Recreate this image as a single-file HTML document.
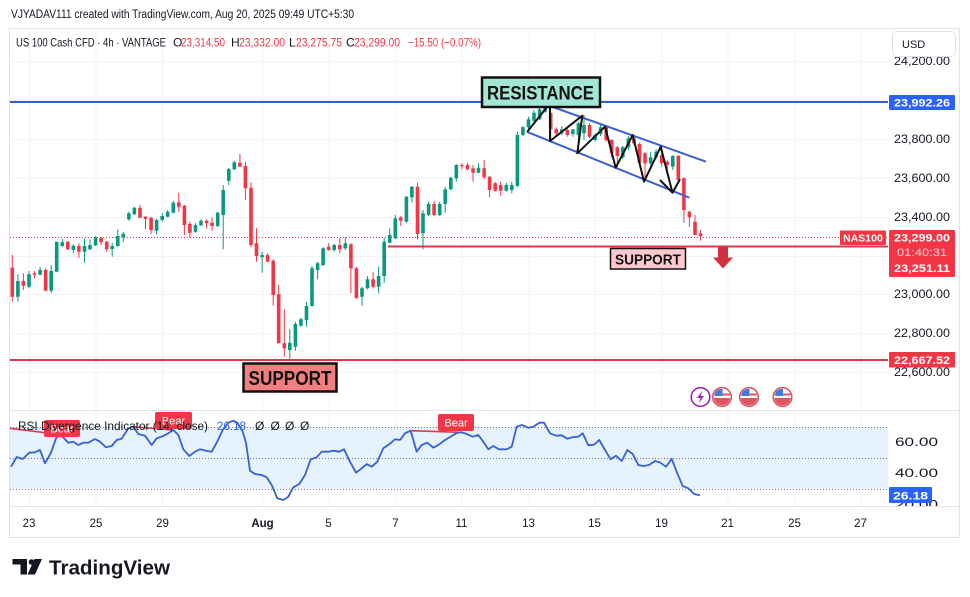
<!DOCTYPE html>
<html>
<head>
<meta charset="utf-8">
<style>
html,body{margin:0;padding:0;background:#fff;}
svg{display:block;font-family:"Liberation Sans",Arial,sans-serif;}
</style>
</head>
<body>
<svg width="970" height="597" viewBox="0 0 970 597" xmlns="http://www.w3.org/2000/svg">
<defs>
<clipPath id="fc"><circle cx="0" cy="0" r="8.3"/></clipPath>
<g id="flag">
<circle cx="0" cy="0" r="9.3" fill="#fff" stroke="#e05563" stroke-width="1.6"/>
<g clip-path="url(#fc)">
<rect x="-9" y="-9" width="18" height="18" fill="#fff"/>
<rect x="-9" y="1" width="18" height="9" fill="#e05563"/>
<rect x="-9" y="-3.5" width="18" height="2" fill="#e05563"/>
<rect x="-7" y="-8" width="7.5" height="7" fill="#3d7de4"/>
</g>
</g>
<clipPath id="plot"><rect x="10" y="29" width="878" height="477"/></clipPath>
</defs>
<rect width="970" height="597" fill="#fff"/>

<!-- header -->
<text x="11" y="18" font-size="11.5" fill="#131722" textLength="343" lengthAdjust="spacingAndGlyphs">VJYADAV111 created with TradingView.com, Aug 20, 2025 09:49 UTC+5:30</text>

<!-- frame -->
<rect x="9.5" y="28.5" width="950" height="509" fill="none" stroke="#e0e3eb"/>

<!-- grid -->
<g stroke="#f0f3fa" stroke-width="1" fill="none">
<path d="M10 61.5H888M10 100.5H888M10 139.5H888M10 178.5H888M10 217.5H888M10 256.5H888M10 294.5H888M10 333.5H888M10 372.5H888"/>
<path d="M29.5 29V506M96 29V506M162.7 29V506M262.7 29V506M329 29V506M396 29V506M462 29V506M529 29V506M595 29V506M662 29V506M728 29V506M795 29V506M861 29V506"/>
<path d="M10 442.5H888M10 473.5H888"/>
</g>
<!-- separators -->
<path d="M10 410.5H959M10 506.5H959" stroke="#e0e3eb" stroke-width="1"/>

<!-- RSI pane -->
<rect x="10" y="427" width="878" height="62" fill="#e6f2fd"/>
<g stroke="#787b86" stroke-width="1" stroke-dasharray="1,2">
<path d="M10 427.5H888M10 458.5H888M10 489.5H888"/>
</g>
<!-- divergence lines -->
<path d="M10 428.3L45 432.7M133 426.7L172 430M410.7 430.7L460 432.3" stroke="#e0394a" stroke-width="1.6" fill="none"/>
<polyline fill="none" stroke="#3462d4" stroke-width="1.8" stroke-linejoin="round" points="11,466.7 16.7,457 22.7,459 29.3,452.7 35,452.3 40,450 45,463.3 50.7,453.3 56.7,436.7 62,436 68.3,442.7 73.3,441.7 78.3,445 83.3,442.7 88.3,442.7 95,439 100,441.7 106,447.3 111.7,446 116.7,440 121.7,438.7 128.3,428.3 133.3,426.7 138.3,434 145,435.7 151.7,445 156.7,438.3 163.3,436 168.3,433.3 173.3,430 178.3,435 183.3,449.3 189.3,456 195,451.7 200,449.3 206,450.7 211.7,451.7 216.7,442.7 222.7,430 228.3,422.7 233.3,420.7 237.3,422.7 242.7,431.7 246,442.7 250,470.7 255,474 261.7,475 266.7,477.3 271.7,485 277.3,498.3 283.3,500 288.3,496.7 293.3,487.3 299.3,484 305,475 310.7,459.3 316.7,457.3 321.7,451.7 328.3,451.7 333.3,450.7 339.3,451.7 344,449.3 350,461.7 356,472.7 361.7,468.3 366.7,464 371.7,466.7 377.3,461.7 383.3,448.3 389.3,444.3 395,439.3 400,440 405,433.3 410.7,430.7 416.7,451.7 421.7,445 427.3,442.7 433.3,447.7 439.3,444.3 445,440 451.7,436 457.3,432.7 461.7,432.3 466.7,434 472.7,436.7 478.3,435 483.3,441.7 488.3,449.3 493.3,446 499,449.3 506.7,449.3 511.7,446.7 516.7,426.7 521.7,425 528.3,427.7 533.3,426.7 539.3,422.7 544,422.7 550,433.3 556,435.7 561.7,435.3 567.3,438.7 573.3,437 578.3,436.7 582.7,433.3 588.3,445.3 594,444.7 599.3,440 605,450 610.7,459.3 616,455.7 621.7,461 627.3,450 632.7,454 638.3,465 643.3,466 649,465 655,461 660.3,462.7 666,466.7 671.7,459 677.3,473.3 682.7,486 688.3,488.3 694,494 700,495.3"/>
<!-- Bear labels -->
<g fill="#f23645">
<rect x="44" y="420" width="36" height="17" rx="2"/>
<rect x="155" y="412" width="37" height="17" rx="2"/>
<rect x="438" y="414" width="36" height="17" rx="2"/>
</g>
<g fill="#fff" font-size="11" text-anchor="middle">
<text x="62" y="432.5">Bear</text>
<text x="173.5" y="424.5">Bear</text>
<text x="456" y="426.5">Bear</text>
</g>
<text x="18" y="430" font-size="12" fill="#131722" textLength="190" lengthAdjust="spacingAndGlyphs">RSI Divergence Indicator (14, close)</text>
<text x="217" y="430" font-size="12" fill="#2962ff" textLength="29" lengthAdjust="spacingAndGlyphs">26.18</text>
<g font-size="12" fill="#131722">
<text x="255" y="430">Ø</text><text x="270.5" y="430">Ø</text><text x="285" y="430">Ø</text><text x="300" y="430">Ø</text>
</g>

<!-- main lines -->
<path d="M10 102H888" stroke="#2f5fd6" stroke-width="2"/>
<path d="M10 237.5H888" stroke="#f23645" stroke-width="1" stroke-dasharray="1,2"/>
<path d="M388 246.5H888" stroke="#d93a4a" stroke-width="2"/>
<path d="M10 360H888" stroke="#d93a4a" stroke-width="2"/>

<!-- candles -->
<g clip-path="url(#plot)">
<path stroke="#089981" stroke-width="1" fill="none" d="M17.9 274.3V301.7M29 271V288.3M40.1 266.7V275.3M51.2 265.3V293.3M56.7 241.7V271.7M62.3 238.7V246.7M73.4 244.3V253.3M84.5 238.7V262.7M90 239.3V250M95.6 236V246M112.2 242.7V256.7M117.8 229.3V246.7M123.3 232V241.7M128.9 211.7V221M134.4 206.7V215M156.6 218.7V234.3M162.2 213.3V221.7M167.7 210V217.3M173.3 200.7V213.3M195.5 223.3V232.7M201 219.3V226M217.7 211.7V227.3M223.2 185V249.3M228.8 167.7V185M234.3 161V170M262.1 251.7V272.7M289.8 329.3V360M295.4 321.7V350.7M300.9 317.7V326.7M306.5 301.7V326.7M312 266V306.7M317.6 261.7V279.3M323.1 247.3V266M334.2 244V251.7M345.3 237.3V250M362 286.7V305.7M367.5 276V289.3M378.6 266.7V293.3M384.2 238.3V282.7M389.7 228.3V243.3M395.3 215V239.3M406.4 196V222.7M411.9 186V202.7M423 210V249.3M428.6 201.7V216M439.7 201.7V216M445.2 187.3V212.7M450.8 176.7V190M456.3 164V181.7M478.5 163.3V173.3M506.3 182.7V191.7M511.8 181.7V193.3M517.4 131.7V186.7M522.9 126V136M528.5 116.7V129.3M534 110V122.7M539.6 107.3V120M545.1 103.3V112.7M561.8 126V135M572.9 129.3V136.7M578.4 121.7V151.7M584 115V140M595.1 133.3V141.7M600.6 125V136M622.8 146V159.3M628.4 136V150M650.6 151.7V165M656.1 149.3V159.3M672.8 155V170"/>
<path fill="#089981" d="M16.1 281h3.6V296.7h-3.6zM27.2 274.3h3.6V286.7h-3.6zM38.3 270h3.6V274.7h-3.6zM49.4 271h3.6V290.7h-3.6zM54.9 241.7h3.6V271.7h-3.6zM60.5 242.3h3.6V246h-3.6zM71.6 245.7h3.6V250h-3.6zM82.7 246h3.6V251.7h-3.6zM88.2 245h3.6V249.3h-3.6zM93.8 237.3h3.6V245.3h-3.6zM110.4 246h3.6V249h-3.6zM116 236h3.6V246h-3.6zM121.5 233.7h3.6V237.3h-3.6zM127.1 213.3h3.6V219.3h-3.6zM132.6 207.7h3.6V214.3h-3.6zM154.8 220h3.6V230.7h-3.6zM160.4 216h3.6V220h-3.6zM165.9 211.7h3.6V216.7h-3.6zM171.5 202.7h3.6V212.7h-3.6zM193.7 225h3.6V231.7h-3.6zM199.2 220.7h3.6V225.3h-3.6zM215.9 212.7h3.6V226h-3.6zM221.4 190h3.6V215h-3.6zM227 169h3.6V180.7h-3.6zM232.5 162.3h3.6V169.3h-3.6zM260.3 255h3.6V257.3h-3.6zM288 342.7h3.6V350h-3.6zM293.6 324h3.6V346.7h-3.6zM299.1 319.3h3.6V325.7h-3.6zM304.7 306h3.6V320h-3.6zM310.2 268.3h3.6V306h-3.6zM315.8 263.3h3.6V270h-3.6zM321.3 248.3h3.6V265h-3.6zM332.4 245h3.6V250h-3.6zM343.5 243.3h3.6V248.3h-3.6zM360.2 288.3h3.6V296.7h-3.6zM365.7 279.3h3.6V288.3h-3.6zM376.8 276h3.6V286.7h-3.6zM382.4 241.7h3.6V276h-3.6zM387.9 235h3.6V242.7h-3.6zM393.5 218.3h3.6V238.3h-3.6zM404.6 196.7h3.6V221.7h-3.6zM410.1 186.7h3.6V197.3h-3.6zM421.2 213.3h3.6V233.3h-3.6zM426.8 204h3.6V215h-3.6zM437.9 204h3.6V215h-3.6zM443.4 189.3h3.6V204h-3.6zM449 177.7h3.6V189.3h-3.6zM454.5 165h3.6V178.3h-3.6zM476.7 167.7h3.6V172.7h-3.6zM504.5 185h3.6V190.7h-3.6zM510 185h3.6V190h-3.6zM515.6 135h3.6V186h-3.6zM521.1 127.3h3.6V135h-3.6zM526.7 119.3h3.6V127.3h-3.6zM532.2 112.7h3.6V120.7h-3.6zM537.8 109.3h3.6V119.3h-3.6zM543.3 105h3.6V111.7h-3.6zM560 129.3h3.6V133.3h-3.6zM571.1 129.3h3.6V134h-3.6zM576.6 123.3h3.6V135h-3.6zM582.2 125h3.6V133.3h-3.6zM593.3 135h3.6V140h-3.6zM598.8 127.3h3.6V134h-3.6zM621 147.3h3.6V157.3h-3.6zM626.6 138.3h3.6V147.3h-3.6zM648.8 157.3h3.6V163.3h-3.6zM654.3 151.7h3.6V157.3h-3.6zM671 156h3.6V166.7h-3.6z"/>
<path stroke="#f23645" stroke-width="1" fill="none" d="M12.3 255V301.7M23.4 273.3V290M34.5 271V278.3M45.6 268.3V290.7M67.8 241V250M78.9 243.3V257.7M101.1 236.7V245M106.7 241V251.7M140 205V218.3M145.5 216V229.3M151.1 216.7V234.3M178.8 192.7V211.7M184.4 205V235M189.9 221.7V237.7M206.6 219.3V228.3M212.1 217.3V230.7M239.9 154V166.7M245.4 161.7V200M251 182.3V247.3M256.5 228.3V261.7M267.6 253.3V261.7M273.2 259.3V305.7M278.7 285V343.3M284.3 309.3V356.7M328.7 243.3V250.7M339.8 238.3V253.3M350.9 243.3V293.3M356.4 266.7V298.3M373.1 271.7V288.3M400.8 216V226M417.5 182.7V239.3M434.1 201V216M461.9 163.3V169.3M467.4 162.7V170.7M473 165V181.7M484.1 160V179.3M489.6 176V197.3M495.2 181.7V191.7M500.7 181.7V196M550.7 111.7V140M556.2 127.3V135M567.3 127.3V136.7M589.5 123.3V138.3M606.2 125V141.7M611.7 139.3V157.3M617.3 146V166.7M633.9 135V145M639.5 142.7V164M645 151.7V179.3M661.7 153.3V166.7M667.2 160V175M678.3 155V181.7M683.9 177.3V222.7M689.4 210.7V226.7M695 215V235M700.5 230V240.7"/>
<path fill="#f23645" d="M10.5 267.7h3.6V296.7h-3.6zM21.6 281h3.6V285.7h-3.6zM32.7 273.3h3.6V274.7h-3.6zM43.8 270h3.6V290.7h-3.6zM66 241.7h3.6V249.3h-3.6zM77.1 246h3.6V251.7h-3.6zM99.3 238h3.6V242.3h-3.6zM104.9 241.7h3.6V249.3h-3.6zM138.2 207.7h3.6V217.7h-3.6zM143.7 216.7h3.6V219h-3.6zM149.3 217.7h3.6V230h-3.6zM177 202.3h3.6V206.7h-3.6zM182.6 205.7h3.6V225h-3.6zM188.1 224h3.6V232.7h-3.6zM204.8 220.7h3.6V223.3h-3.6zM210.3 222.7h3.6V226h-3.6zM238.1 162.7h3.6V166.7h-3.6zM243.6 166h3.6V188.3h-3.6zM249.2 187.7h3.6V245h-3.6zM254.7 243.3h3.6V256h-3.6zM265.8 255h3.6V261.7h-3.6zM271.4 260.7h3.6V295h-3.6zM276.9 294.3h3.6V343.3h-3.6zM282.5 343.3h3.6V348.3h-3.6zM326.9 246.7h3.6V250h-3.6zM338 245h3.6V249.3h-3.6zM349.1 244.3h3.6V268.3h-3.6zM354.6 268.3h3.6V298.3h-3.6zM371.3 279.3h3.6V286.7h-3.6zM399 217.3h3.6V220.7h-3.6zM415.7 186.7h3.6V234h-3.6zM432.3 204h3.6V215h-3.6zM460.1 165h3.6V166.2h-3.6zM465.6 165h3.6V169.3h-3.6zM471.2 168.3h3.6V172.7h-3.6zM482.3 168.3h3.6V177.3h-3.6zM487.8 176.7h3.6V190h-3.6zM493.4 183.3h3.6V190.7h-3.6zM498.9 185h3.6V190.7h-3.6zM548.9 113.3h3.6V129.3h-3.6zM554.4 129.3h3.6V133.3h-3.6zM565.5 130h3.6V135h-3.6zM587.7 125h3.6V136.7h-3.6zM604.4 126.7h3.6V140h-3.6zM609.9 140h3.6V153.3h-3.6zM615.5 147.3h3.6V156h-3.6zM632.1 138.3h3.6V143.3h-3.6zM637.7 144h3.6V162.7h-3.6zM643.2 153.3h3.6V163.3h-3.6zM659.9 155h3.6V163.3h-3.6zM665.4 161.7h3.6V165h-3.6zM676.5 156h3.6V180h-3.6zM682.1 178.3h3.6V210h-3.6zM687.6 211.7h3.6V217.3h-3.6zM693.2 221.7h3.6V235h-3.6zM698.7 233.2h3.6V236.2h-3.6z"/>
</g>

<!-- channel -->
<path d="M550 106L706 161.7M526.7 131.7L689.3 197.7" stroke="#3a5fd9" stroke-width="2" fill="none"/>
<!-- zigzag -->
<path d="M527.3 131.7L550 103.3L550 141L582.3 115.7L577.3 153.3L605 126.7L615.7 167.7L632.7 135L644 181.7L660.7 146.7L672.5 192.7L680 179.3M660 180L672.5 192.7" stroke="#111" stroke-width="2" fill="none" stroke-linejoin="round"/>

<!-- RESISTANCE -->
<rect x="482" y="77.5" width="118" height="29.5" fill="#a3e6d3" stroke="#111" stroke-width="2.5"/>
<text x="487" y="99.5" font-size="19" font-weight="bold" fill="#111" textLength="107" lengthAdjust="spacingAndGlyphs">RESISTANCE</text>

<!-- small SUPPORT -->
<rect x="610.5" y="248.5" width="75" height="20.5" fill="#fbc9cd" stroke="#111" stroke-width="1.5"/>
<text x="615" y="264.5" font-size="15" font-weight="bold" fill="#111" textLength="66" lengthAdjust="spacingAndGlyphs">SUPPORT</text>

<!-- arrow -->
<path d="M718 247H728V257.5H733L723 268.5L713 257.5H718Z" fill="#d42f3f"/>

<!-- big SUPPORT -->
<rect x="243.5" y="363.5" width="93" height="28" fill="#f08080" stroke="#111" stroke-width="2.5"/>
<text x="248.5" y="385" font-size="20" font-weight="bold" fill="#111" textLength="83" lengthAdjust="spacingAndGlyphs">SUPPORT</text>

<!-- event icons -->
<circle cx="700.5" cy="397" r="9.3" fill="#fff" stroke="#9c27b0" stroke-width="1.6"/>
<path d="M702.5 390.5L697 398H700.5L698.5 403.5L704 396H700.5Z" fill="#9c27b0"/>
<use href="#flag" x="722" y="397"/>
<use href="#flag" x="749" y="397"/>
<use href="#flag" x="782.5" y="397"/>

<!-- NAS100 label -->
<rect x="840" y="230.5" width="46" height="14.5" fill="#f23645" rx="1"/>
<text x="863" y="241.5" font-size="10.5" font-weight="bold" fill="#fff" text-anchor="middle">NAS100</text>

<!-- price axis labels -->
<g font-size="11.5" fill="#131722">
<text x="894" y="65" textLength="56" lengthAdjust="spacingAndGlyphs">24,200.00</text>
<text x="894" y="143" textLength="56" lengthAdjust="spacingAndGlyphs">23,800.00</text>
<text x="894" y="182" textLength="56" lengthAdjust="spacingAndGlyphs">23,600.00</text>
<text x="894" y="221" textLength="56" lengthAdjust="spacingAndGlyphs">23,400.00</text>
<text x="894" y="298" textLength="56" lengthAdjust="spacingAndGlyphs">23,000.00</text>
<text x="894" y="337" textLength="56" lengthAdjust="spacingAndGlyphs">22,800.00</text>
<text x="894" y="376" textLength="56" lengthAdjust="spacingAndGlyphs">22,600.00</text>
<text x="895" y="446" textLength="43" lengthAdjust="spacingAndGlyphs">60.00</text>
<text x="895" y="477" textLength="43" lengthAdjust="spacingAndGlyphs">40.00</text>
<text x="895" y="508.5" textLength="43" lengthAdjust="spacingAndGlyphs">20.00</text>
</g>
<rect x="888" y="507" width="71" height="30" fill="#fff"/>
<path d="M888 506.5H959" stroke="#e0e3eb"/>

<!-- USD button -->
<rect x="892.5" y="31.5" width="63" height="25" rx="4" fill="#fff" stroke="#e0e3eb"/>
<text x="902" y="48" font-size="11" fill="#131722">USD</text>

<!-- price boxes -->
<rect x="889" y="95" width="66" height="15" fill="#2962ff" rx="1"/>
<text x="922" y="106.5" font-size="11" font-weight="bold" fill="#fff" text-anchor="middle" textLength="56" lengthAdjust="spacingAndGlyphs">23,992.26</text>

<rect x="889" y="230" width="66" height="47" fill="#f23645" rx="1"/>
<text x="922" y="241.5" font-size="11" font-weight="bold" fill="#fff" text-anchor="middle" textLength="56" lengthAdjust="spacingAndGlyphs">23,299.00</text>
<text x="922" y="256" font-size="11" fill="#fcd3d7" text-anchor="middle" textLength="50" lengthAdjust="spacingAndGlyphs">01:40:31</text>
<text x="922" y="272" font-size="11" font-weight="bold" fill="#fff" text-anchor="middle" textLength="56" lengthAdjust="spacingAndGlyphs">23,251.11</text>

<rect x="889" y="352" width="66" height="15.5" fill="#f23645" rx="1"/>
<text x="922" y="364" font-size="11" font-weight="bold" fill="#fff" text-anchor="middle" textLength="56" lengthAdjust="spacingAndGlyphs">22,667.52</text>

<rect x="889" y="487" width="43" height="16" fill="#2962ff" rx="1"/>
<text x="910.5" y="499.5" font-size="11" font-weight="bold" fill="#fff" text-anchor="middle" textLength="35" lengthAdjust="spacingAndGlyphs">26.18</text>

<!-- legend -->
<g font-size="12">
<text x="16" y="46.5" fill="#131722" textLength="150" lengthAdjust="spacingAndGlyphs">US 100 Cash CFD · 4h · VANTAGE</text>
<text x="173" y="46.5" fill="#131722">O</text>
<text x="181" y="46.5" fill="#f23645" textLength="44" lengthAdjust="spacingAndGlyphs">23,314.50</text>
<text x="231" y="46.5" fill="#131722">H</text>
<text x="239" y="46.5" fill="#f23645" textLength="46" lengthAdjust="spacingAndGlyphs">23,332.00</text>
<text x="289" y="46.5" fill="#131722">L</text>
<text x="296" y="46.5" fill="#f23645" textLength="46" lengthAdjust="spacingAndGlyphs">23,275.75</text>
<text x="346" y="46.5" fill="#131722">C</text>
<text x="354" y="46.5" fill="#f23645" textLength="46" lengthAdjust="spacingAndGlyphs">23,299.00</text>
<text x="408" y="46.5" fill="#f23645" textLength="73" lengthAdjust="spacingAndGlyphs">−15.50 (−0.07%)</text>
</g>

<!-- time axis -->
<g font-size="11.5" fill="#131722" text-anchor="middle">
<text x="29" y="527">23</text>
<text x="96" y="527">25</text>
<text x="162.5" y="527">29</text>
<text x="262.5" y="527" font-weight="bold">Aug</text>
<text x="328.5" y="527">5</text>
<text x="395.5" y="527">7</text>
<text x="461.5" y="527">11</text>
<text x="528.5" y="527">13</text>
<text x="594.5" y="527">15</text>
<text x="661.5" y="527">19</text>
<text x="727.5" y="527">21</text>
<text x="794.5" y="527">25</text>
<text x="860.5" y="527">27</text>
</g>

<!-- TradingView logo -->
<path d="M12.5 559H27V574.5H20.5V564.5H12.5Z" fill="#131722"/>
<circle cx="31.5" cy="562" r="2.8" fill="#131722"/>
<path d="M34.5 559H42L35 574.5H27.5Z" fill="#131722"/>
<text x="49" y="574.5" font-size="20.5" font-weight="bold" fill="#131722" textLength="121" lengthAdjust="spacingAndGlyphs">TradingView</text>
</svg>
</body>
</html>
